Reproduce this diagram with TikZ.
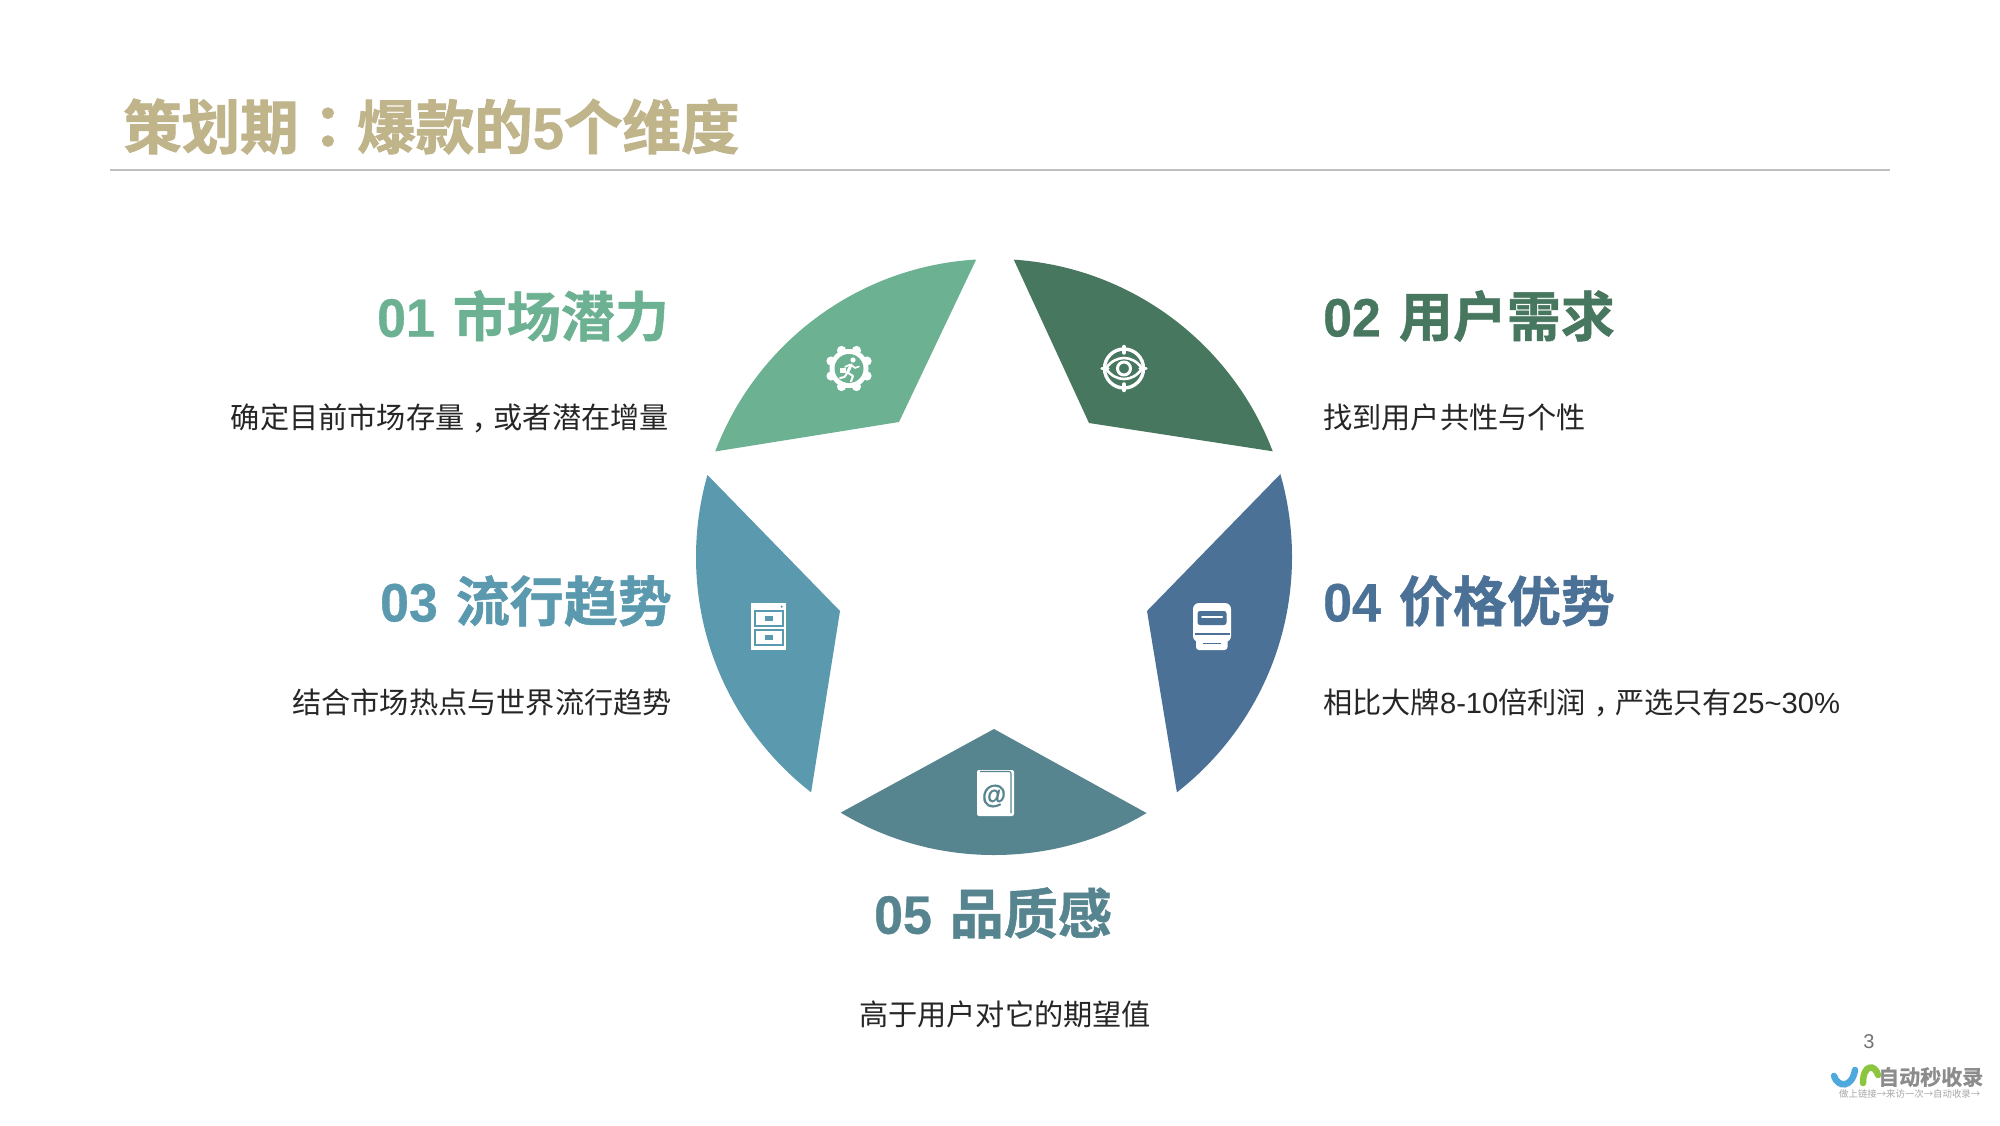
\documentclass[tikz,border=0pt]{standalone}
\usepackage{fontspec}
\setmainfont{Liberation Sans}
\newfontfamily\cj{Noto Sans CJK SC}
\newfontfamily\cjtc{Noto Sans CJK TC}
\newfontfamily\cjhead{Noto Sans CJK SC Bold}[FakeBold=1.0]
\newfontfamily\cjtchead{Noto Sans CJK TC Bold}[FakeBold=1.0]
\newfontfamily\ls{Liberation Sans}
\newfontfamily\lsb{Liberation Sans Bold}[FakeStretch=0.96,FakeBold=0.6]
\newfontfamily\cjheavy{Noto Sans CJK SC Bold}[FakeBold=1.6]
\newcommand{\lowcomma}{\smash{\raisebox{-0.33em}{\cjtc ，}}}
\definecolor{segA}{HTML}{6DB193}
\definecolor{segB}{HTML}{47775E}
\definecolor{segC}{HTML}{5B99AF}
\definecolor{segD}{HTML}{4B7196}
\definecolor{segE}{HTML}{56858F}
\definecolor{titlecol}{HTML}{C0B48A}
\definecolor{bodycol}{HTML}{262626}
\definecolor{markgrey}{HTML}{8C8C8C}
\definecolor{logoblue}{HTML}{4FA9DC}
\definecolor{logogreen}{HTML}{8CC63F}
\tikzset{
  headtext/.style={inner sep=0pt,font=\fontsize{54}{60}\selectfont},
  desctext/.style={inner sep=0pt,text=bodycol,font=\fontsize{29.2}{34}\selectfont},
  wstroke/.style={draw=white,line cap=round,line join=round,fill=none},
}
\begin{document}
\begin{tikzpicture}[x=1pt,y=-1pt]
\useasboundingbox (0,0) rectangle (2000,1125);
\fill[white] (0,0) rectangle (2000,1125);
% title
\node[anchor=west,inner sep=0pt,text=titlecol,font=\fontsize{58.5}{64}\selectfont] (title) at (123,126.5)
  {{\cjheavy 策划期}{\cjtchead ：}{\cjheavy 爆款的}{\lsb 5}{\cjheavy 个维度}};
\coordinate (ruleL) at (110,170);
\coordinate (ruleR) at (1890,170);
\draw[color=black!25,line width=1.5pt] (ruleL) -- (ruleR);
% star segments
\begin{scope}
\clip (994,557) circle[radius=298pt];
\fill[segA] (662,460) -- (899,422) -- (1013,182) -- (662,180) -- cycle;
\fill[segB] (975,175.5) -- (1089,423) -- (1326,459.5) -- (1326,175) -- cycle;
\fill[segD] (1345,407.75) -- (1147,611) -- (1192,884) -- (1345,884) -- cycle;
\fill[segC] (642,407.75) -- (840,611) -- (796.5,884) -- (642,884) -- cycle;
\fill[segE] (686,897) -- (994,729) -- (1299,897) -- (1299,950) -- (686,950) -- cycle;
\end{scope}
% gear icon
\foreach \a in {22.5,67.5,...,337.5}
  \fill[white] (849,368.5) ++(\a:19.5pt) circle[radius=4.6pt];
\fill[white] (849,368.5) circle[radius=19.5pt];
\fill[segA] (849,368.5) circle[radius=14.5pt];
\fill[white] (853,360) circle[radius=2.6pt];
\draw[wstroke,line width=3pt] (851,365) -- (847.5,372.5);
\draw[wstroke,line width=2pt] (847.5,372.5) -- (853,376) -- (851,381.5);
\draw[wstroke,line width=2pt] (847.5,372.5) -- (844.5,377) -- (840,378);
\draw[wstroke,line width=1.6pt] (851,364.5) -- (855,368) -- (859,366.5);
\draw[wstroke,line width=1.6pt] (850,364.5) -- (845,367);
\fill[white] (840,367.5) rectangle (846,372.5);
% eye icon
\draw[wstroke,line width=3.4pt] (1124,368.5) circle[radius=19.5pt];
\draw[wstroke,line width=3.4pt] (1124,346.5) -- (1124,353);
\draw[wstroke,line width=3.4pt] (1124,384) -- (1124,390.5);
\draw[wstroke,line width=3.4pt] (1102,368.5) -- (1108,368.5);
\draw[wstroke,line width=3.4pt] (1140,368.5) -- (1146,368.5);
\draw[wstroke,line width=2.6pt] (1106,368.5) .. controls (1115,354.5) and (1133,354.5) .. (1142,368.5) .. controls (1133,382.5) and (1115,382.5) .. (1106,368.5) -- cycle;
\draw[wstroke,line width=3pt] (1124,368.5) circle[radius=6.5pt];
% cabinet icon
\fill[white] (751,603) rectangle (786,650);
\draw[segC,line width=1.8pt] (755,611) rectangle (783,626);
\draw[segC,line width=1.8pt] (755,630) rectangle (783,645);
\fill[segC] (765,616) rectangle (773,621);
\fill[segC] (765,635) rectangle (773,640);
\fill[segC] (781.7,606.7) circle[radius=1.2pt];
% printer icon
\fill[white,rounded corners=6pt] (1193,603) rectangle (1231,642);
\fill[segD,rounded corners=2.5pt] (1197.5,611) rectangle (1226.5,625);
\draw[wstroke,line width=2pt] (1202,617) -- (1222,617);
\draw[segD,line width=1.4pt] (1194.5,634) -- (1229.5,634);
\fill[white,rounded corners=3pt] (1196,635) rectangle (1227.5,650);
\draw[segD,line width=1.8pt] (1203,643.5) -- (1221,643.5);
% book icon
\fill[white,rounded corners=2pt] (977,770) rectangle (1014,816);
\draw[segE,line width=1.1pt,rounded corners=2pt] (980,771.5) -- (1011,771.5) -- (1011,813);
\node[inner sep=0pt,text=segE,font=\fontsize{26}{26}\selectfont] (at) at (994,796) {\lsb @};
% text blocks
\node[headtext,anchor=east,text=segA] (h1) at (669,316) {{\lsb 01}\hspace{3pt} {\cjhead 市场潜力}};
\node[desctext,anchor=east] (d1) at (669,417.5) {{\cj 确定目前市场存量}\lowcomma{\cj 或者潜在增量}};
\node[headtext,anchor=west,text=segB] (h2) at (1323,316) {{\lsb 02}\hspace{3pt} {\cjhead 用户需求}};
\node[desctext,anchor=west] (d2) at (1323,417.5) {\cj 找到用户共性与个性};
\node[headtext,anchor=east,text=segC] (h3) at (672,601) {{\lsb 03}\hspace{3pt} {\cjhead 流行趋势}};
\node[desctext,anchor=east] (d3) at (672,702) {\cj 结合市场热点与世界流行趋势};
\node[headtext,anchor=west,text=segD] (h4) at (1323,601) {{\lsb 04}\hspace{3pt} {\cjhead 价格优势}};
\node[desctext,anchor=west] (d4) at (1323,702) {{\cj 相比大牌}{\ls 8-10}{\cj 倍利润}\lowcomma{\cj 严选只有}{\ls 25\textasciitilde 30\%}};
\node[headtext,text=segE] (h5) at (993,913) {{\lsb 05}\hspace{3pt} {\cjhead 品质感}};
\node[desctext] (d5) at (1005,1014) {\cj 高于用户对它的期望值};
% page number
\node[inner sep=0pt,text=black!55,font=\fontsize{20}{24}\selectfont] (page) at (1869,1042) {3};
% watermark
\draw[color=logoblue,line width=6.5pt,line cap=round] (1834,1076) .. controls (1838,1088) and (1852,1088) .. (1855,1070);
\draw[color=logogreen,line width=6.5pt,line cap=round] (1863,1083) .. controls (1863,1064) and (1875,1064) .. (1878,1075);
\node[anchor=west,inner sep=0pt,text=markgrey,font=\fontsize{21}{24}\selectfont] (mark) at (1878,1077) {\cjhead 自动秒收录};
\node[anchor=west,inner sep=0pt,text=black!35,font=\fontsize{9.4}{11}\selectfont] (markb) at (1839,1094) {\cj 做上链接→来访一次→自动收录→};
\end{tikzpicture}
\end{document}
